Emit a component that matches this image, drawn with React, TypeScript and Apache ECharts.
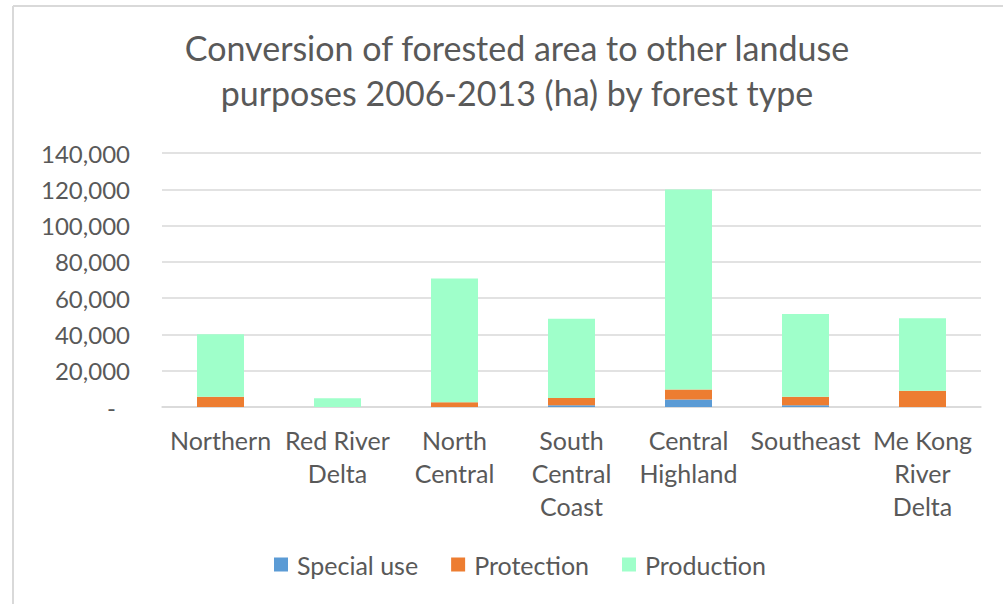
import React, { useEffect, useRef } from "react";
import * as echarts from "echarts";

const categories = [
  "Northern",
  "Red River\nDelta",
  "North\nCentral",
  "South\nCentral\nCoast",
  "Central\nHighland",
  "Southeast",
  "Me Kong\nRiver\nDelta",
];
const specialUse = [0, 0, 0, 900, 4200, 900, 0];
const protection = [5700, 0, 2600, 4100, 5500, 4800, 9000];
const production = [34400, 4800, 68200, 43700, 110200, 45500, 39900];
const seriesNames = ["Special use", "Protection", "Production"];
const colors = ["#5B9BD5", "#ED7D31", "#9FFFCA"];
const titleText = "Conversion of forested area to other landuse\npurposes 2006-2013 (ha) by forest type";

const FONT = "Lato, 'Open Sans', sans-serif";
const TXT = "#595959";

export default function App() {
  const ref = useRef<HTMLDivElement>(null);
  useEffect(() => {
    if (!ref.current) return;
    const chart = echarts.init(ref.current, undefined, { renderer: "svg" });
    const data = [specialUse, protection, production];
    chart.setOption({
      animation: false,
      textStyle: { fontFamily: FONT },
      title: {
        text: titleText,
        left: 512,
        textAlign: "center",
        top: 20,
        textStyle: {
          fontFamily: FONT,
          fontSize: 34,
          fontWeight: "normal",
          color: TXT,
          lineHeight: 45,
        },
      },
      legend: {
        bottom: 22,
        left: 269,
        itemWidth: 14,
        itemHeight: 14,
        itemGap: 33,
        icon: "rect",
        textStyle: { fontFamily: FONT, fontSize: 25, color: TXT, padding: [0, 0, 0, 4] },
        data: seriesNames,
      },
      grid: { left: 162, right: 22, top: 153, bottom: 197, containLabel: false },
      xAxis: {
        type: "category",
        data: categories,
        axisLine: { lineStyle: { color: "#D9D9D9", width: 1.5 } },
        axisTick: { show: false },
        axisLabel: {
          fontFamily: FONT,
          fontSize: 25,
          color: TXT,
          lineHeight: 33,
          margin: 16,
          interval: 0,
        },
      },
      yAxis: {
        type: "value",
        min: 0,
        max: 140000,
        interval: 20000,
        axisLine: { show: false },
        axisTick: { show: false },
        splitLine: { lineStyle: { color: "#D9D9D9", width: 1.5 } },
        axisLabel: {
          fontFamily: FONT,
          fontSize: 24,
          color: TXT,
          margin: 32,
          formatter: (v: number) => (v === 0 ? "{d|-}" : v.toLocaleString("en-US")),
          rich: { d: { fontFamily: FONT, fontSize: 24, color: TXT, padding: [0, 14, 0, 0] } },
        },
      },
      series: seriesNames.map((name, i) => ({
        name,
        type: "bar",
        stack: "total",
        data: data[i],
        barWidth: 47,
        itemStyle: { color: colors[i] },
      })),
      graphic: [
        {
          type: "line",
          shape: { x1: 13, y1: 6, x2: 1003, y2: 6 },
          style: { stroke: "#D9D9D9", lineWidth: 2 },
        },
        {
          type: "line",
          shape: { x1: 13, y1: 6, x2: 13, y2: 604 },
          style: { stroke: "#D9D9D9", lineWidth: 2 },
        },
      ],
    });
    return () => chart.dispose();
  }, []);
  return (
    <div
      ref={ref}
      style={{ position: "fixed", left: 0, top: 0, width: 1003, height: 604, background: "#fff" }}
    />
  );
}
